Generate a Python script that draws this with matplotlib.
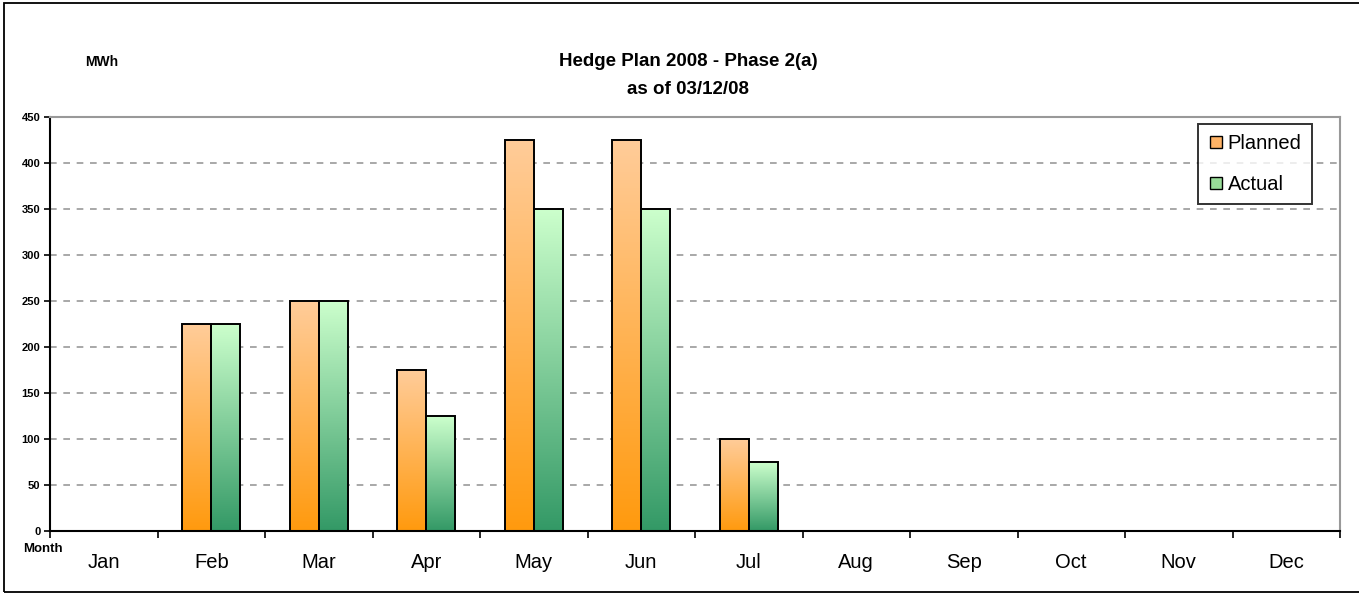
import numpy as np
import matplotlib
matplotlib.use("Agg")
import matplotlib.pyplot as plt
from matplotlib.colors import LinearSegmentedColormap
from matplotlib.patches import Rectangle
from matplotlib.lines import Line2D

months = ["Jan", "Feb", "Mar", "Apr", "May", "Jun",
          "Jul", "Aug", "Sep", "Oct", "Nov", "Dec"]
planned = [0, 225, 250, 175, 425, 425, 100, 0, 0, 0, 0, 0]
actual = [0, 225, 250, 125, 350, 350, 75, 0, 0, 0, 0, 0]
y_ticks = [0, 50, 100, 150, 200, 250, 300, 350, 400, 450]

plt.rcParams["font.family"] = ["Liberation Sans", "DejaVu Sans"]

planned_cmap = LinearSegmentedColormap.from_list("pl", ["#FF9A0E", "#FFCC99"])
actual_cmap = LinearSegmentedColormap.from_list("ac", ["#339966", "#CCFFCC"])
grad = np.linspace(0, 1, 256).reshape(-1, 1)

fig = plt.figure(figsize=(13.59, 5.96), dpi=100)
fig.patches.append(Rectangle((4 / 1359, 4 / 596), 1.05, 589 / 596,
                             transform=fig.transFigure, fill=False,
                             edgecolor="black", linewidth=1.3))
ax = fig.add_axes([50 / 1359, 65 / 596, 1290 / 1359, 414 / 596])

bw = 0.27
for i in range(len(months)):
    c = i + 0.5
    for vals, cmap, x0 in ((planned, planned_cmap, c - bw), (actual, actual_cmap, c)):
        h = vals[i]
        if h <= 0:
            continue
        ax.imshow(grad, extent=(x0, x0 + bw, 0, h), origin="lower", aspect="auto",
                  cmap=cmap, zorder=2, interpolation="bilinear")
        ax.add_patch(Rectangle((x0, 0), bw, h, fill=False, edgecolor="black",
                               linewidth=1.4, zorder=3))

ax.set_xlim(0, 12)
ax.set_ylim(0, 450)

for y in y_ticks[1:-1]:
    ax.axhline(y, color="#999999", linestyle=(0, (4, 4)), linewidth=1.2, zorder=1)

ax.set_yticks(y_ticks)
ax.set_yticklabels([str(v) for v in y_ticks], fontsize=8, fontweight="bold")
ax.set_xticks(range(13))
ax.set_xticklabels([])
ax.set_xticks([i + 0.5 for i in range(12)], minor=True)
ax.set_xticklabels(months, minor=True, fontsize=14.5)
ax.tick_params(axis="x", which="minor", length=0, pad=16)
ax.tick_params(axis="x", which="major", length=5, width=1.2, direction="out")
ax.tick_params(axis="y", length=4, width=1.2, direction="out", pad=3)

for side in ("left", "bottom"):
    ax.spines[side].set_color("black")
    ax.spines[side].set_linewidth(1.5)
for side in ("top", "right"):
    ax.spines[side].set_color("#999999")
    ax.spines[side].set_linewidth(1.5)

fig.text(102 / 1359, 1 - 62 / 596, "MWh", fontsize=10, fontweight="heavy",
         ha="center", va="center")
fig.text(43 / 1359, 1 - 549 / 596, "Month", fontsize=9.5, fontweight="heavy",
         ha="center", va="center")
fig.text(688 / 1359, 1 - 61 / 596, "Hedge Plan 2008 - Phase 2(a)", fontsize=13.5,
         fontweight="bold", ha="center", va="center")
fig.text(688 / 1359, 1 - 89 / 596, "as of 03/12/08", fontsize=13.5,
         fontweight="bold", ha="center", va="center")

handles = [
    Line2D([], [], linestyle="none", marker="s", markersize=9,
           markerfacecolor="#FFB366", markeredgecolor="black", markeredgewidth=1),
    Line2D([], [], linestyle="none", marker="s", markersize=9,
           markerfacecolor="#99DD99", markeredgecolor="black", markeredgewidth=1),
]
leg = ax.legend(handles, ["Planned", "Actual"], loc="upper right",
                bbox_to_anchor=(0.978, 0.983), fontsize=14.5, frameon=True,
                fancybox=False, edgecolor="black", labelspacing=1.1,
                handlelength=0.7, handletextpad=0.25, borderpad=0.5,
                borderaxespad=0)
leg.get_frame().set_linewidth(1.4)
leg.set_zorder(5)

fig.savefig("out.png", dpi=100)
